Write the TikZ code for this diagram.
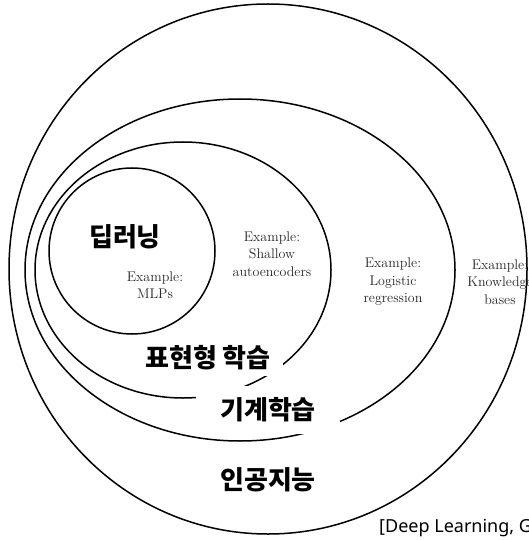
\documentclass[tikz,border=0pt]{standalone}
\usepackage{fontspec}
\usetikzlibrary{shapes.geometric}
\newfontfamily\kofont{Noto Sans CJK KR}
\newfontfamily\citefont{Noto Sans}

\begin{document}
\begin{tikzpicture}[
  x=1pt, y=-1pt,
  ring/.style={draw,ellipse,line width=1.5pt,inner sep=0pt},
  field/.style={fill=white,inner xsep=12pt,inner ysep=6pt,
                font=\kofont\bfseries\fontsize{26}{30}\selectfont},
  example/.style={align=center,text=black!85,
                  font=\fontsize{14}{17.5}\selectfont}
]
\useasboundingbox (0,0) rectangle (529,540);

\node[ring,minimum width=518pt,minimum height=530pt] (ai) at (268,269) {};
\node[ring,minimum width=430pt,minimum height=342pt] (ml) at (240,270) {};
\node[ring,minimum width=296pt,minimum height=256pt] (rl) at (183,270) {};
\node[ring,circle,minimum size=166pt] (dl) at (132,251) {};

\node[example] (dl-ex) at (155,285) {Example:\\MLPs};
\node[example] (rl-ex) at (272,254) {Example:\\Shallow\\autoencoders};
\node[example] (ml-ex) at (393,282) {Example:\\Logistic\\regression};
\node[example] (ai-ex) at (500,282) {Example:\\Knowledge\\bases};

\node[field] (dl-name) at (125,237) {딥러닝};
\node[field] (rl-name) at (208,358) {표현형 학습};
\node[field,inner xsep=24pt,inner ysep=12pt] (ml-name) at (268,410) {기계학습};
\node[field] (ai-name) at (268,480) {인공지능};

\node[anchor=base west,inner sep=0pt,font=\citefont\fontsize{18}{21}\selectfont]
  (source) at (379,532) {[Deep Learning, G};
\end{tikzpicture}
\end{document}
